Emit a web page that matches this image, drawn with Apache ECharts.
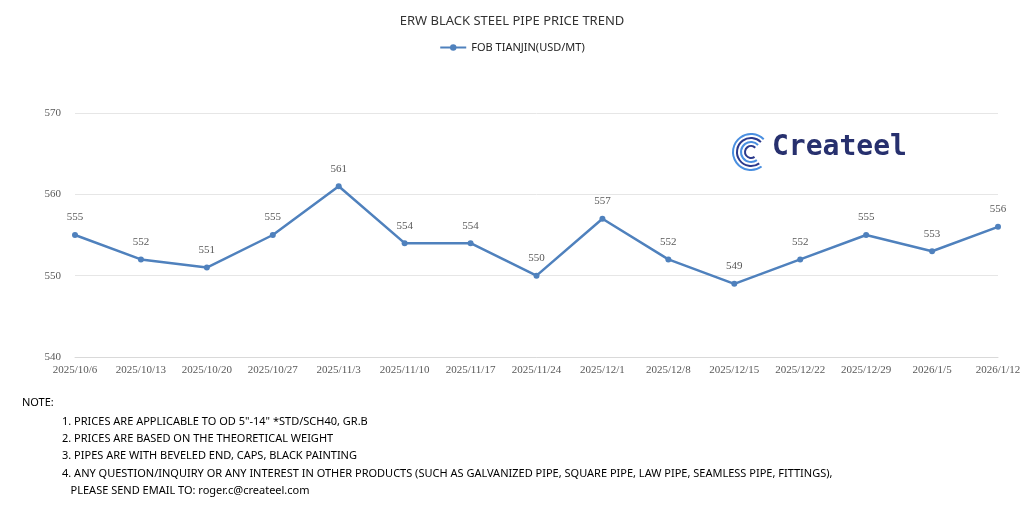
<!DOCTYPE html>
<html>
<head>
<meta charset="UTF-8">
<script src="https://cdn.jsdelivr.net/npm/echarts@6/dist/echarts.min.js"></script>
<style>html,body{margin:0;padding:0;background:#fff}#main{width:1024px;height:506px}</style>
</head>
<body>
<div id="main"></div>
<script>
const dates = ['2025/10/6','2025/10/13','2025/10/20','2025/10/27','2025/11/3','2025/11/10','2025/11/17','2025/11/24','2025/12/1','2025/12/8','2025/12/15','2025/12/22','2025/12/29','2026/1/5','2026/1/12'];
const prices = [555,552,551,555,561,554,554,550,557,552,549,552,555,553,556];
const notes = [
  '1. PRICES ARE APPLICABLE TO OD 5"-14" *STD/SCH40, GR.B',
  '2. PRICES ARE BASED ON THE THEORETICAL WEIGHT',
  '3. PIPES ARE WITH BEVELED END, CAPS, BLACK PAINTING',
  '4. ANY QUESTION/INQUIRY OR ANY INTEREST IN OTHER PRODUCTS (SUCH AS GALVANIZED PIPE, SQUARE PIPE, LAW PIPE, SEAMLESS PIPE, FITTINGS),',
  '   PLEASE SEND EMAIL TO: roger.c@createel.com'
];

const font = 'Noto Sans';
const graphic = [
  { type: 'text', left: 22, top: 397, style: { text: 'NOTE:', font: '11px ' + font, fill: '#000' } }
];
notes.forEach((t, i) => {
  graphic.push({ type: 'text', left: 62, top: 416 + i * 17.3, style: { text: t, font: '11px ' + font, fill: '#000' } });
});
// logo
[18, 14, 10, 6].forEach((r, i) => {
  graphic.push({ type: 'arc', shape: { cx: 751, cy: 152, r: r, startAngle: Math.PI * 0.3, endAngle: Math.PI * 1.75 },
    style: { stroke: i % 2 ? '#2b3a8c' : '#4a8fe0', lineWidth: 2, fill: null } });
});
graphic.push({ type: 'text', left: 772, top: 134, style: { text: 'Createel', font: 'bold 28px "DejaVu Sans Mono"', fill: '#27306e' } });

echarts.init(document.getElementById('main')).setOption({
  animation: false,
  title: { text: 'ERW BLACK STEEL PIPE PRICE TREND', left: 'center', top: 10,
    textStyle: { fontFamily: font, fontSize: 13, fontWeight: 'normal', color: '#333' } },
  legend: { top: 37, itemWidth: 26, itemHeight: 8, textStyle: { fontFamily: font, fontSize: 11, color: '#222' },
    data: ['FOB TIANJIN(USD/MT)'] },
  grid: { left: 75, right: 26, top: 113, bottom: 149 },
  graphic: graphic,
  xAxis: {
    type: 'category', data: dates, boundaryGap: false,
    axisLine: { lineStyle: { color: '#d9d9d9' } }, axisTick: { show: false },
    axisLabel: { fontFamily: 'Liberation Serif', fontSize: 11, color: '#595959', margin: 8, interval: 0 }
  },
  yAxis: {
    type: 'value', min: 540, max: 570, interval: 10,
    axisLine: { show: false }, axisTick: { show: false },
    splitLine: { lineStyle: { color: '#e6e6e6' } },
    axisLabel: { fontFamily: 'Liberation Serif', fontSize: 11, color: '#595959', margin: 14 }
  },
  series: [{
    name: 'FOB TIANJIN(USD/MT)', type: 'line', data: prices,
    symbol: 'circle', symbolSize: 6,
    lineStyle: { color: '#4f81bd', width: 2.5 }, itemStyle: { color: '#4f81bd' },
    label: { show: true, position: 'top', distance: 9, fontFamily: 'Liberation Serif', fontSize: 11, color: '#595959' }
  }]
});
</script>
</body>
</html>
